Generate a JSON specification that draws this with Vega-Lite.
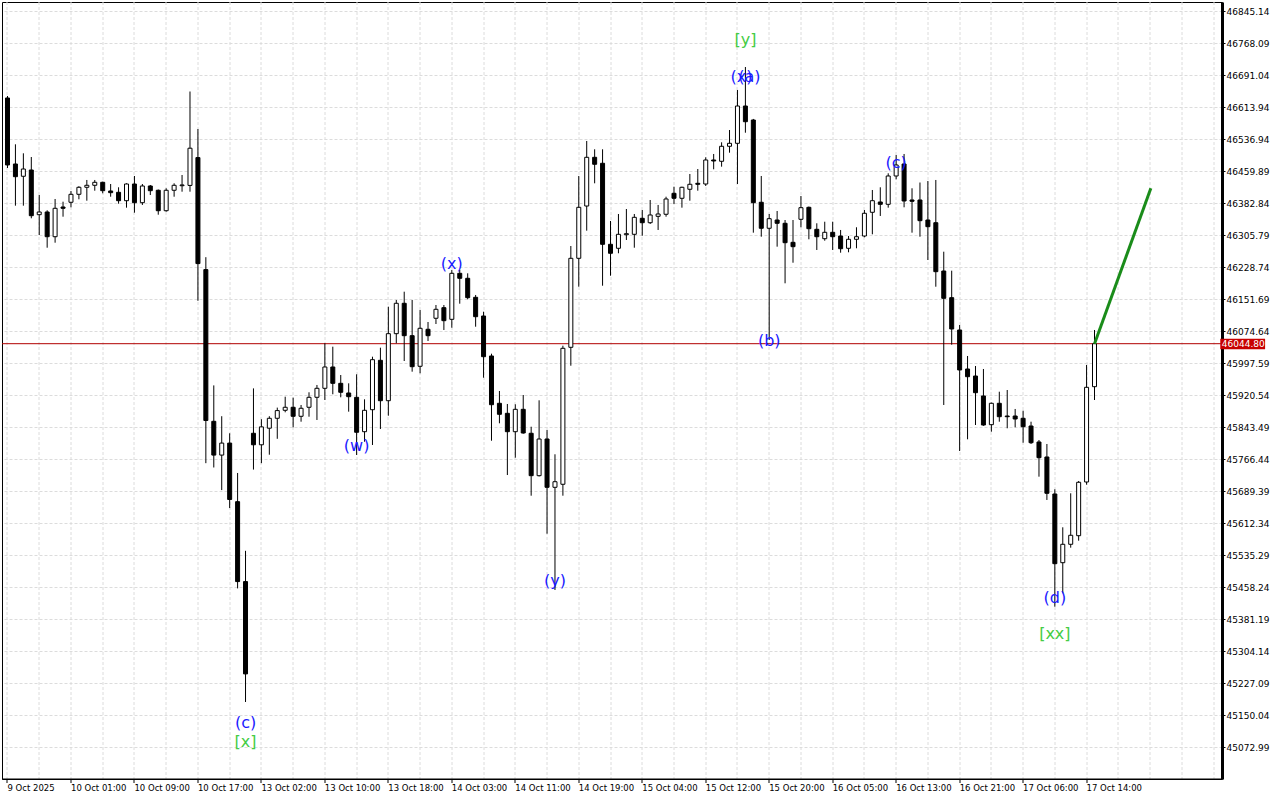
{
  "$schema": "https://vega.github.io/schema/vega-lite/v6.json",
  "width": 1220,
  "height": 777,
  "autosize": {"type": "none"},
  "padding": {"left": 2, "top": 2, "right": 58, "bottom": 21},
  "background": "white",
  "config": {
    "view": {"stroke": "black", "strokeWidth": 1},
    "axis": {"labelFont": "DejaVu Sans", "title": null, "labelOverlap": false, "labelBound": false}
  },
  "datasets": {
    "candles": [
      {"i":0,"o":46636.4,"h":46641.2,"l":46467.8,"c":46475.1},
      {"i":1,"o":46477.5,"h":46524.9,"l":46377.1,"c":46446.9},
      {"i":2,"o":46447.9,"h":46503.2,"l":46377.1,"c":46465.4},
      {"i":3,"o":46463.0,"h":46494.3,"l":46346.7,"c":46353.0},
      {"i":4,"o":46355.4,"h":46402.8,"l":46306.5,"c":46361.9},
      {"i":5,"o":46361.9,"h":46366.0,"l":46275.9,"c":46302.4},
      {"i":6,"o":46302.4,"h":46393.2,"l":46288.0,"c":46370.8},
      {"i":7,"o":46373.9,"h":46386.7,"l":46350.6,"c":46370.8},
      {"i":8,"o":46385.3,"h":46412.5,"l":46373.2,"c":46404.5},
      {"i":9,"o":46404.5,"h":46424.0,"l":46392.5,"c":46421.4},
      {"i":10,"o":46421.4,"h":46439.0,"l":46389.1,"c":46426.2},
      {"i":11,"o":46426.2,"h":46439.0,"l":46413.2,"c":46433.4},
      {"i":12,"o":46433.4,"h":46434.9,"l":46406.9,"c":46413.2},
      {"i":13,"o":46412.5,"h":46429.3,"l":46398.7,"c":46408.4},
      {"i":14,"o":46409.3,"h":46421.4,"l":46381.9,"c":46389.1},
      {"i":15,"o":46389.1,"h":46431.0,"l":46372.3,"c":46429.3},
      {"i":16,"o":46429.3,"h":46448.6,"l":46360.2,"c":46384.3},
      {"i":17,"o":46384.3,"h":46429.3,"l":46378.8,"c":46424.5},
      {"i":18,"o":46424.5,"h":46426.9,"l":46402.8,"c":46413.2},
      {"i":19,"o":46414.2,"h":46416.0,"l":46355.4,"c":46365.0},
      {"i":20,"o":46365.0,"h":46419.0,"l":46362.6,"c":46414.2},
      {"i":21,"o":46414.2,"h":46431.0,"l":46398.7,"c":46426.2},
      {"i":22,"o":46425.2,"h":46451.0,"l":46410.8,"c":46427.0},
      {"i":23,"o":46425.9,"h":46652.0,"l":46410.8,"c":46515.5},
      {"i":24,"o":46492.9,"h":46561.7,"l":46148.1,"c":46237.7},
      {"i":25,"o":46223.2,"h":46253.1,"l":45757.1,"c":45859.9},
      {"i":26,"o":45857.9,"h":45944.4,"l":45746.7,"c":45776.6},
      {"i":27,"o":45776.6,"h":45870.2,"l":45692.3,"c":45805.5},
      {"i":28,"o":45805.5,"h":45829.1,"l":45649.0,"c":45669.7},
      {"i":29,"o":45664.4,"h":45733.5,"l":45455.6,"c":45472.0},
      {"i":30,"o":45472.0,"h":45546.1,"l":45182.1,"c":45249.7},
      {"i":31,"o":45829.1,"h":45937.2,"l":45741.7,"c":45801.4},
      {"i":32,"o":45801.4,"h":45863.0,"l":45757.1,"c":45844.5},
      {"i":33,"o":45841.3,"h":45870.2,"l":45777.5,"c":45865.2},
      {"i":34,"o":45865.2,"h":45890.9,"l":45815.8,"c":45883.7},
      {"i":35,"o":45884.4,"h":45917.2,"l":45879.6,"c":45891.7},
      {"i":36,"o":45891.7,"h":45914.8,"l":45843.5,"c":45870.0},
      {"i":37,"o":45870.0,"h":45897.2,"l":45857.0,"c":45889.3},
      {"i":38,"o":45891.7,"h":45927.8,"l":45869.0,"c":45915.7},
      {"i":39,"o":45915.7,"h":45945.4,"l":45861.1,"c":45937.4},
      {"i":40,"o":45937.4,"h":46045.8,"l":45909.2,"c":45988.7},
      {"i":41,"o":45988.7,"h":46037.6,"l":45923.0,"c":45949.4},
      {"i":42,"o":45949.4,"h":45969.4,"l":45915.7,"c":45927.8},
      {"i":43,"o":45926.1,"h":45949.4,"l":45881.1,"c":45917.2},
      {"i":44,"o":45915.7,"h":45971.1,"l":45776.8,"c":45831.5},
      {"i":45,"o":45832.9,"h":45910.9,"l":45808.8,"c":45884.4},
      {"i":46,"o":45885.9,"h":46013.5,"l":45800.9,"c":46006.3},
      {"i":47,"o":46004.8,"h":46035.2,"l":45839.4,"c":45907.5},
      {"i":48,"o":45907.5,"h":46133.9,"l":45871.4,"c":46068.9},
      {"i":49,"o":46068.9,"h":46150.0,"l":46045.8,"c":46142.1},
      {"i":50,"o":46142.1,"h":46170.0,"l":46003.1,"c":46064.1},
      {"i":51,"o":46064.1,"h":46150.0,"l":45977.4,"c":45989.4},
      {"i":52,"o":45990.4,"h":46125.9,"l":45973.5,"c":46081.9},
      {"i":53,"o":46079.5,"h":46097.0,"l":46051.3,"c":46064.1},
      {"i":54,"o":46106.0,"h":46138.0,"l":46092.2,"c":46127.6},
      {"i":55,"o":46131.5,"h":46138.0,"l":46077.8,"c":46100.2},
      {"i":56,"o":46103.5,"h":46222.2,"l":46083.3,"c":46214.3},
      {"i":57,"o":46214.3,"h":46222.2,"l":46141.1,"c":46202.3},
      {"i":58,"o":46202.3,"h":46214.3,"l":46151.7,"c":46155.6},
      {"i":59,"o":46156.5,"h":46162.1,"l":46085.7,"c":46109.8},
      {"i":60,"o":46111.5,"h":46121.8,"l":45962.9,"c":46013.5},
      {"i":61,"o":46015.2,"h":46020.7,"l":45811.2,"c":45897.9},
      {"i":62,"o":45901.3,"h":45930.9,"l":45853.1,"c":45874.8},
      {"i":63,"o":45877.2,"h":45899.6,"l":45728.6,"c":45832.9},
      {"i":64,"o":45832.9,"h":45898.9,"l":45770.3,"c":45886.8},
      {"i":65,"o":45886.8,"h":45921.3,"l":45828.1,"c":45829.8},
      {"i":66,"o":45829.1,"h":45844.9,"l":45678.8,"c":45727.0},
      {"i":67,"o":45727.0,"h":45908.5,"l":45725.0,"c":45815.3},
      {"i":68,"o":45815.3,"h":45837.0,"l":45587.3,"c":45699.0},
      {"i":69,"o":45699.0,"h":45778.5,"l":45451.8,"c":45712.5},
      {"i":70,"o":45706.3,"h":46040.0,"l":45678.8,"c":46033.7},
      {"i":71,"o":46036.1,"h":46280.0,"l":45991.8,"c":46250.4},
      {"i":72,"o":46250.4,"h":46448.6,"l":46182.0,"c":46373.2},
      {"i":73,"o":46376.3,"h":46532.9,"l":46316.9,"c":46493.6},
      {"i":74,"o":46493.6,"h":46512.9,"l":46431.0,"c":46476.8},
      {"i":75,"o":46479.2,"h":46512.9,"l":46184.4,"c":46284.1},
      {"i":76,"o":46284.1,"h":46340.2,"l":46208.5,"c":46262.5},
      {"i":77,"o":46274.5,"h":46357.1,"l":46262.5,"c":46308.2},
      {"i":78,"o":46307.2,"h":46369.1,"l":46294.5,"c":46309.7},
      {"i":79,"o":46308.2,"h":46357.1,"l":46275.9,"c":46349.1},
      {"i":80,"o":46346.7,"h":46366.7,"l":46304.8,"c":46336.1},
      {"i":81,"o":46336.1,"h":46390.8,"l":46333.0,"c":46354.7},
      {"i":82,"o":46351.5,"h":46378.8,"l":46318.6,"c":46357.1},
      {"i":83,"o":46356.4,"h":46398.7,"l":46350.6,"c":46393.2},
      {"i":84,"o":46406.9,"h":46422.8,"l":46381.2,"c":46394.9},
      {"i":85,"o":46394.9,"h":46422.8,"l":46372.3,"c":46421.4},
      {"i":86,"o":46416.6,"h":46453.4,"l":46389.1,"c":46428.6},
      {"i":87,"o":46431.0,"h":46465.4,"l":46413.2,"c":46428.6},
      {"i":88,"o":46429.3,"h":46493.6,"l":46424.5,"c":46487.1},
      {"i":89,"o":46487.1,"h":46501.6,"l":46464.7,"c":46484.7},
      {"i":90,"o":46484.0,"h":46529.7,"l":46471.0,"c":46520.1},
      {"i":91,"o":46520.1,"h":46559.3,"l":46504.7,"c":46527.3},
      {"i":92,"o":46527.3,"h":46655.7,"l":46429.3,"c":46617.1},
      {"i":93,"o":46617.1,"h":46711.0,"l":46552.8,"c":46579.3},
      {"i":94,"o":46583.4,"h":46586.0,"l":46312.1,"c":46384.3},
      {"i":95,"o":46385.3,"h":46448.6,"l":46302.4,"c":46322.7},
      {"i":96,"o":46322.7,"h":46357.1,"l":46053.7,"c":46345.8},
      {"i":97,"o":46342.6,"h":46364.3,"l":46278.4,"c":46334.7},
      {"i":98,"o":46334.7,"h":46342.6,"l":46190.2,"c":46288.0},
      {"i":99,"o":46288.9,"h":46342.6,"l":46239.8,"c":46278.4},
      {"i":100,"o":46344.3,"h":46400.4,"l":46325.1,"c":46372.3},
      {"i":101,"o":46373.2,"h":46375.0,"l":46296.2,"c":46321.7},
      {"i":102,"o":46320.2,"h":46334.7,"l":46270.4,"c":46302.4},
      {"i":103,"o":46297.6,"h":46338.5,"l":46292.8,"c":46313.0},
      {"i":104,"o":46313.0,"h":46338.5,"l":46270.4,"c":46302.4},
      {"i":105,"o":46304.1,"h":46318.6,"l":46263.9,"c":46273.5},
      {"i":106,"o":46274.5,"h":46304.1,"l":46264.9,"c":46296.2},
      {"i":107,"o":46296.2,"h":46325.1,"l":46274.5,"c":46302.4},
      {"i":108,"o":46304.1,"h":46366.7,"l":46301.0,"c":46358.8},
      {"i":109,"o":46361.2,"h":46414.9,"l":46308.2,"c":46389.1},
      {"i":110,"o":46386.0,"h":46421.4,"l":46352.3,"c":46380.4},
      {"i":111,"o":46380.4,"h":46455.1,"l":46372.3,"c":46448.6},
      {"i":112,"o":46448.6,"h":46499.1,"l":46440.6,"c":46475.1},
      {"i":113,"o":46477.5,"h":46501.6,"l":46373.2,"c":46388.4},
      {"i":114,"o":46390.8,"h":46419.0,"l":46312.1,"c":46387.7},
      {"i":115,"o":46390.8,"h":46432.9,"l":46302.4,"c":46341.0},
      {"i":116,"o":46342.6,"h":46436.5,"l":46246.3,"c":46326.5},
      {"i":117,"o":46336.1,"h":46439.0,"l":46182.0,"c":46218.2},
      {"i":118,"o":46219.8,"h":46266.3,"l":45897.2,"c":46154.1},
      {"i":119,"o":46155.6,"h":46220.6,"l":46042.4,"c":46080.2},
      {"i":120,"o":46077.8,"h":46089.8,"l":45786.4,"c":45981.5},
      {"i":121,"o":45983.9,"h":46015.2,"l":45814.6,"c":45965.3},
      {"i":122,"o":45967.0,"h":45991.1,"l":45849.0,"c":45926.8},
      {"i":123,"o":45918.9,"h":45983.9,"l":45847.0,"c":45849.0},
      {"i":124,"o":45849.8,"h":45903.0,"l":45832.9,"c":45901.3},
      {"i":125,"o":45901.3,"h":45929.2,"l":45857.0,"c":45869.0},
      {"i":126,"o":45870.7,"h":45933.3,"l":45841.1,"c":45869.0},
      {"i":127,"o":45870.7,"h":45887.6,"l":45843.5,"c":45863.5},
      {"i":128,"o":45865.2,"h":45883.5,"l":45806.4,"c":45844.9},
      {"i":129,"o":45846.6,"h":45857.0,"l":45803.3,"c":45806.4},
      {"i":130,"o":45808.1,"h":45812.9,"l":45724.6,"c":45770.3},
      {"i":131,"o":45772.0,"h":45803.3,"l":45668.5,"c":45684.6},
      {"i":132,"o":45682.9,"h":45694.2,"l":45411.5,"c":45515.1},
      {"i":133,"o":45517.5,"h":45602.7,"l":45443.8,"c":45561.8},
      {"i":134,"o":45561.8,"h":45684.6,"l":45553.6,"c":45583.5},
      {"i":135,"o":45582.5,"h":45714.2,"l":45570.5,"c":45711.1},
      {"i":136,"o":45711.8,"h":45993.5,"l":45705.3,"c":45939.8},
      {"i":137,"o":45941.3,"h":46077.8,"l":45909.2,"c":46044.8}
    ],
    "price": [{"p": 46044.80}],
    "proj": [{"i": 137, "p": 46044.8}, {"i": 144.1, "p": 46418.9}],
    "labels": [
      {"i":30,"p":45131.5,"t":"(c)","k":"wave"},
      {"i":30,"p":45085.8,"t":"[x]","k":"cycle"},
      {"i":44,"p":45798.5,"t":"(w)","k":"wave"},
      {"i":56,"p":46236.7,"t":"(x)","k":"wave"},
      {"i":69,"p":45473.4,"t":"(y)","k":"wave"},
      {"i":93,"p":46776.0,"t":"[y]","k":"cycle"},
      {"i":92.5,"p":46687.0,"t":"(x)","k":"wave"},
      {"i":93.5,"p":46687.0,"t":"(a)","k":"wave"},
      {"i":96,"p":46051.3,"t":"(b)","k":"wave"},
      {"i":112,"p":46479.9,"t":"(c)","k":"wave"},
      {"i":132,"p":45432.5,"t":"(d)","k":"wave"},
      {"i":132,"p":45345.8,"t":"[xx]","k":"cycle"}
    ]
  },
  "layer": [
    {
      "data": {"name": "price"},
      "mark": {"type": "rule", "color": "#b00000", "strokeWidth": 1},
      "encoding": {
        "y": {
          "field": "p", "type": "quantitative", "title": null,
          "scale": {"domain": [44996.67, 46867.53], "nice": false, "zero": false},
          "axis": {
            "orient": "right",
            "values": [46845.14, 46768.09, 46691.04, 46613.94, 46536.94, 46459.89, 46382.84, 46305.79, 46228.74, 46151.69, 46074.64, 45997.59, 45920.54, 45843.49, 45766.44, 45689.39, 45612.34, 45535.29, 45458.24, 45381.19, 45304.14, 45227.09, 45150.04, 45072.99],
            "tickCount": 200,
            "format": ".2f",
            "grid": true, "gridColor": "#dcdcdc", "gridDash": [3, 2], "gridWidth": 1,
            "domain": true, "domainColor": "black", "domainWidth": 3,
            "ticks": true, "tickColor": "black", "tickSize": 3,
            "labelFont": "DejaVu Sans", "labelFontSize": 9, "labelColor": "black", "labelPadding": 1,
            "labelOverlap": false, "labelBound": false, "title": null
          }
        }
      }
    },
    {
      "data": {"name": "candles"},
      "mark": {"type": "rule", "color": "black", "strokeWidth": 1, "clip": true},
      "encoding": {
        "x": {
          "field": "i", "type": "quantitative", "title": null,
          "scale": {"domain": [-0.0625, 152.4375], "nice": false, "zero": false},
          "axis": {
            "orient": "bottom",
            "values": [0,4,8,12,16,20,24,28,32,36,40,44,48,52,56,60,64,68,72,76,80,84,88,92,96,100,104,108,112,116,120,124,128,132,136,140,144,148,152],
            "tickCount": 200,
            "grid": true, "gridColor": "#dcdcdc", "gridDash": [3, 2], "gridWidth": 1,
            "domain": true, "domainColor": "black",
            "ticks": true, "tickColor": "black", "tickSize": 4,
            "tickOpacity": {"condition": {"test": "datum.value % 8 == 0 && datum.value <= 136", "value": 1}, "value": 0},
            "labelExpr": "(datum.value % 8 == 0 && datum.value <= 136) ? ['9 Oct 2025','10 Oct 01:00','10 Oct 09:00','10 Oct 17:00','13 Oct 02:00','13 Oct 10:00','13 Oct 18:00','14 Oct 03:00','14 Oct 11:00','14 Oct 19:00','15 Oct 04:00','15 Oct 12:00','15 Oct 20:00','16 Oct 05:00','16 Oct 13:00','16 Oct 21:00','17 Oct 06:00','17 Oct 14:00'][datum.value / 8] : ''",
            "labelAlign": "left", "labelBaseline": "top", "labelPadding": 1,
            "labelFont": "DejaVu Sans", "labelFontSize": 8.5, "labelColor": "black",
            "labelOverlap": false, "labelBound": false, "labelFlush": false,
            "translate": 0, "title": null
          }
        },
        "y": {
          "field": "l", "type": "quantitative", "title": null,
          "scale": {"domain": [44996.67, 46867.53], "nice": false, "zero": false}
        },
        "y2": {"field": "h"}
      }
    },
    {
      "data": {"name": "candles"},
      "mark": {"type": "bar", "width": 4, "orient": "vertical", "stroke": "black", "strokeWidth": 1, "clip": true},
      "encoding": {
        "x": {"field": "i", "type": "quantitative", "title": null, "scale": {"domain": [-0.0625, 152.4375], "nice": false, "zero": false}},
        "y": {"field": "o", "type": "quantitative", "title": null, "scale": {"domain": [44996.67, 46867.53], "nice": false, "zero": false}},
        "y2": {"field": "c"},
        "fill": {"condition": {"test": "datum.c >= datum.o", "value": "white"}, "value": "black"}
      }
    },
    {
      "data": {"name": "proj"},
      "mark": {"type": "line", "color": "#1a8c1a", "strokeWidth": 3},
      "encoding": {
        "x": {"field": "i", "type": "quantitative", "title": null, "scale": {"domain": [-0.0625, 152.4375], "nice": false, "zero": false}},
        "y": {"field": "p", "type": "quantitative", "title": null, "scale": {"domain": [44996.67, 46867.53], "nice": false, "zero": false}}
      }
    },
    {
      "data": {"name": "labels"},
      "mark": {"type": "text", "font": "DejaVu Sans", "fontSize": 16, "align": "center", "baseline": "middle"},
      "encoding": {
        "x": {"field": "i", "type": "quantitative", "title": null, "scale": {"domain": [-0.0625, 152.4375], "nice": false, "zero": false}},
        "y": {"field": "p", "type": "quantitative", "title": null, "scale": {"domain": [44996.67, 46867.53], "nice": false, "zero": false}},
        "text": {"field": "t"},
        "color": {"field": "k", "type": "nominal", "scale": {"domain": ["wave", "cycle"], "range": ["#1a1aff", "#44cc44"]}, "legend": null}
      }
    },
    {
      "data": {"name": "price"},
      "mark": {"type": "rect", "color": "#c80000", "yOffset": -5, "y2Offset": 5.5},
      "encoding": {
        "x": {"datum": 152.85, "type": "quantitative"},
        "x2": {"datum": 158.5},
        "y": {"field": "p", "type": "quantitative", "title": null, "scale": {"domain": [44996.67, 46867.53], "nice": false, "zero": false}},
        "y2": {"field": "p"}
      }
    },
    {
      "data": {"name": "price"},
      "mark": {"type": "text", "color": "white", "font": "DejaVu Sans", "fontSize": 9, "align": "left", "baseline": "middle"},
      "encoding": {
        "x": {"datum": 153.05, "type": "quantitative"},
        "y": {"field": "p", "type": "quantitative", "title": null, "scale": {"domain": [44996.67, 46867.53], "nice": false, "zero": false}},
        "text": {"field": "p", "type": "quantitative", "format": ".2f"}
      }
    }
  ]
}
